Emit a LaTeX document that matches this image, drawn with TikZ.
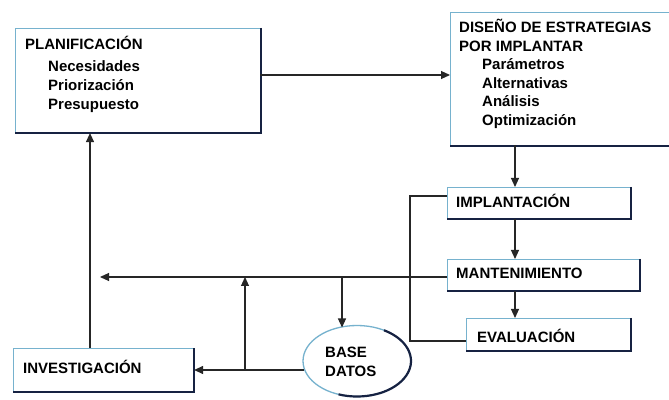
\documentclass[tikz,border=0pt]{standalone}
\usepackage{fontspec}
\setmainfont{Liberation Sans}
\usetikzlibrary{arrows.meta,shapes.geometric}
\definecolor{lb}{RGB}{118,178,206}
\definecolor{dk}{RGB}{22,34,66}
\tikzset{
  box/.style={rectangle, draw=lb, line width=1.1pt, fill=white, inner sep=0pt, anchor=north west},
  shadowedge/.style={draw=dk, line width=2.2pt},
  txt/.style={anchor=base west, inner sep=0pt, font=\fontsize{15}{19}\selectfont\bfseries},
  conn/.style={line width=1.1pt, draw=black!85},
  arr/.style={conn, -{Triangle[length=9pt,width=8pt]}}
}
\begin{document}
\begin{tikzpicture}[x=1pt,y=1pt]
\useasboundingbox (0,0) rectangle (669,399);
\fill[white] (0,0) rectangle (669,399);
% boxes
\node[box, minimum width=245pt, minimum height=104pt] (plan) at (15,371) {};
\node[box, minimum width=225pt, minimum height=133pt] (dis) at (450,387) {};
\node[box, minimum width=183pt, minimum height=31pt] (impl) at (447,212) {};
\node[box, minimum width=192pt, minimum height=31pt] (mant) at (447,140) {};
\node[box, minimum width=164pt, minimum height=32pt] (eval) at (466,81) {};
\node[box, minimum width=180pt, minimum height=43pt] (inv) at (13,51) {};
\node[ellipse, draw=lb, line width=1.3pt, fill=white, minimum width=108pt, minimum height=71pt, inner sep=0pt] (bd) at (357,38) {};
\foreach \n in {plan,dis,impl,mant,eval,inv}
  \draw[shadowedge] (\n.north east) -- (\n.south east) -- (\n.south west);
\draw[shadowedge] ([shift={(60:54pt and 35.5pt)}]bd.center) arc[start angle=60, end angle=-110, x radius=54pt, y radius=35.5pt];
% texts
\node[txt] (t1) at (25,349) {PLANIFICACIÓN};
\node[txt] (t2) at (48,327) {Necesidades};
\node[txt] (t3) at (48,308) {Priorización};
\node[txt] (t4) at (48,289) {Presupuesto};
\node[txt] (d1) at (459,366) {DISEÑO DE ESTRATEGIAS};
\node[txt] (d2) at (459,347) {POR IMPLANTAR};
\node[txt] (d3) at (482,329) {Parámetros};
\node[txt] (d4) at (482,310) {Alternativas};
\node[txt] (d5) at (482,292) {Análisis};
\node[txt] (d6) at (482,273) {Optimización};
\node[txt] (i1) at (456,191) {IMPLANTACIÓN};
\node[txt] (m1) at (456,120) {MANTENIMIENTO};
\node[txt] (e1) at (477,57) {EVALUACIÓN};
\node[txt] (v1) at (23,26) {INVESTIGACIÓN};
\node[txt] (b1) at (325,42) {BASE};
\node[txt] (b2) at (325,23) {DATOS};
% connectors
\coordinate (plout) at (260,324);
\draw[arr] (plout) -- (dis.west |- plout);
\coordinate (dtop) at (515,254);
\draw[arr] (dtop) -- (impl.north -| dtop);
\draw[arr] (impl.south -| dtop) -- (mant.north -| dtop);
\draw[arr] (mant.south -| dtop) -- (eval.north -| dtop);
\coordinate (mleft) at (447,122);
\coordinate (fb) at (100,122);
\draw[arr] (mleft) -- (fb);
\coordinate (j1) at (342,122);
\coordinate (bdtop) at (342,71.5);
\draw[arr] (j1) -- (bdtop);
\coordinate (bdl) at (304,29);
\draw[arr] (bdl) -- (inv.east |- bdl);
\coordinate (j2) at (245,29);
\coordinate (j3) at (245,122);
\draw[arr] (j2) -- (j3);
\coordinate (ix) at (90,51);
\draw[arr] (ix) -- (plan.south -| ix);
\coordinate (k1) at (447,203);
\coordinate (k2) at (410,203);
\coordinate (k3) at (410,58);
\draw[conn] (k1) -- (k2) -- (k3) -- (eval.west |- k3);
\end{tikzpicture}
\end{document}
